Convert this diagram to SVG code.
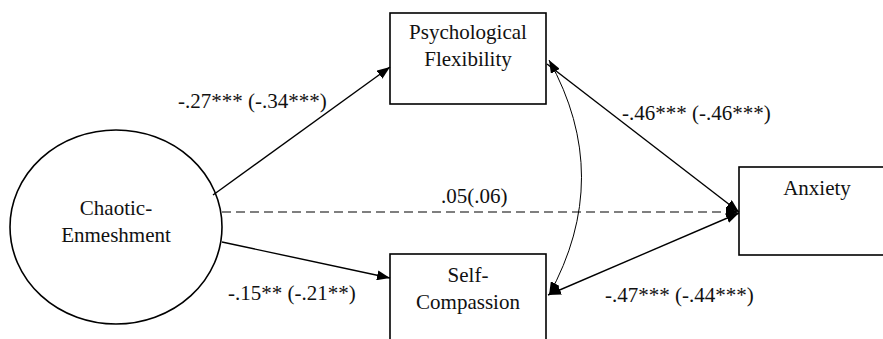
<svg xmlns="http://www.w3.org/2000/svg" width="883" height="339" viewBox="0 0 883 339">
<style>
.box{fill:#fff;stroke:#000;stroke-width:1.6}
.c{text-anchor:middle}
.ln{fill:none;stroke:#000;stroke-width:1.4}
.thin{fill:none;stroke:#000;stroke-width:1}
.dash{fill:none;stroke:#000;stroke-width:1.2;stroke-dasharray:9 5}
</style>
<defs>
<marker id="ah" viewBox="0 0 13 10" refX="13" refY="5" markerWidth="13" markerHeight="10" markerUnits="userSpaceOnUse" orient="auto-start-reverse">
<path d="M0,0 L13,5 L0,10 Z" fill="#000"/>
</marker>
</defs>
<rect width="883" height="339" fill="#fff"/>
<g font-family="Liberation Serif, DejaVu Serif, serif" font-size="21" fill="#111">
<g id="chaotic">
<ellipse class="box" cx="116" cy="227" rx="106" ry="97"/>
<text class="c" x="116" y="215">Chaotic-</text>
<text class="c" x="116" y="242">Enmeshment</text>
</g>
<g id="psychflex">
<rect class="box" x="390" y="13" width="156" height="91"/>
<text class="c" x="468" y="39">Psychological</text>
<text class="c" x="468" y="66">Flexibility</text>
</g>
<g id="selfcomp">
<rect class="box" x="390" y="254" width="156" height="100"/>
<text class="c" x="468" y="282">Self-</text>
<text class="c" x="468" y="309">Compassion</text>
</g>
<g id="anxiety">
<rect class="box" x="739" y="167" width="156" height="88"/>
<text class="c" x="817" y="195">Anxiety</text>
</g>
<g id="connectors">
<line class="ln" x1="213" y1="195" x2="390" y2="67" marker-end="url(#ah)"/>
<line class="ln" x1="222" y1="242" x2="390" y2="278" marker-end="url(#ah)"/>
<line class="dash" x1="222" y1="212" x2="739" y2="212" marker-end="url(#ah)"/>
<line class="ln" x1="547" y1="64" x2="739" y2="212" marker-end="url(#ah)"/>
<line class="ln" x1="548" y1="295" x2="739" y2="213" marker-start="url(#ah)" marker-end="url(#ah)"/>
<path class="thin" d="M549,60 Q614,177 549,295" marker-start="url(#ah)" marker-end="url(#ah)"/>
</g>
<g id="labels">
<text x="178" y="108">-.27*** (-.34***)</text>
<text x="441" y="203">.05(.06)</text>
<text x="228" y="300">-.15** (-.21**)</text>
<text x="622" y="120">-.46*** (-.46***)</text>
<text x="605" y="302">-.47*** (-.44***)</text>
</g>
</g>
</svg>
